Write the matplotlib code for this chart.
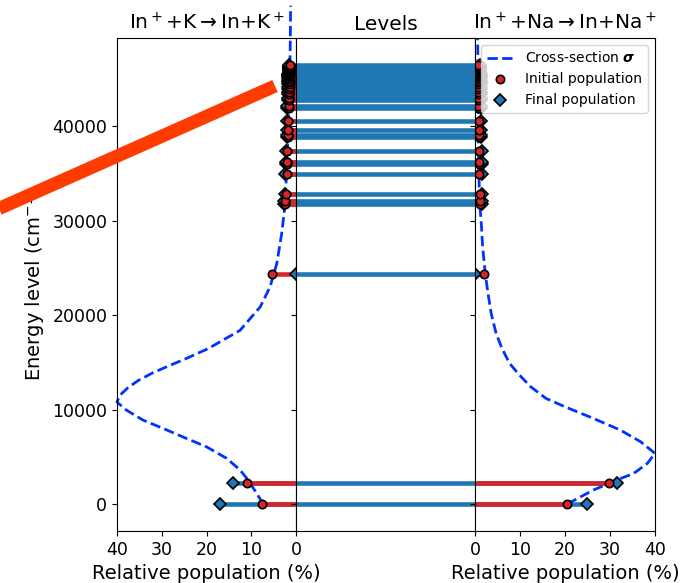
import numpy as np
import matplotlib.pyplot as plt
from matplotlib.lines import Line2D

# energy levels (cm^-1)
levels = [0, 2213, 24373, 31810, 32070, 32880, 34990, 36030, 36280, 37440,
          38860, 39050, 39630, 40580, 41910, 42120, 42770,
          43050, 43400, 43700, 43980, 44230, 44460, 44670, 44860, 45030,
          45190, 45330, 45460, 45580, 45690, 45790, 45880, 45960, 46040,
          46110, 46180, 46240, 46300, 46350, 46400, 46450, 46500]

# populations (%) for In+ + K
init_k = [7.5, 11.0, 5.3, 2.4, 2.4, 2.3, 2.1, 2.0, 2.0, 1.9,
          1.8, 1.8, 1.7, 1.7, 1.6, 1.6, 1.5,
          1.5, 1.5, 1.5, 1.5, 1.4, 1.4, 1.4, 1.4, 1.4,
          1.4, 1.4, 1.4, 1.4, 1.3, 1.3, 1.3, 1.3, 1.3,
          1.3, 1.3, 1.3, 1.3, 1.3, 1.3, 1.3, 1.3]
final_k = [17.0, 14.0, 0.0, 2.6, 2.6, 2.5, 2.4, 2.3, 2.3, 2.2,
           2.1, 2.1, 2.0, 2.0, 1.9, 1.9, 1.8,
           1.8, 1.8, 1.8, 1.8, 1.7, 1.7, 1.7, 1.7, 1.7,
           1.7, 1.7, 1.7, 1.7, 1.6, 1.6, 1.6, 1.6, 1.6,
           1.6, 1.6, 1.6, 1.6, 1.6, 1.6, 1.6, 1.6]

# populations (%) for In+ + Na
init_na = [20.5, 29.8, 2.1, 1.0, 1.0, 1.0, 0.9, 0.9, 0.9, 0.85,
           0.8, 0.8, 0.8, 0.8, 0.75, 0.75, 0.75,
           0.7, 0.7, 0.7, 0.7, 0.7, 0.7, 0.7, 0.7, 0.7,
           0.7, 0.7, 0.7, 0.7, 0.7, 0.7, 0.7, 0.7, 0.7,
           0.7, 0.7, 0.7, 0.7, 0.7, 0.7, 0.7, 0.7]
final_na = [25.0, 31.5, 0.0, 1.6, 1.6, 1.6, 1.5, 1.5, 1.5, 1.5,
            1.4, 1.4, 1.4, 1.4, 1.4, 1.4, 1.3,
            1.3, 1.3, 1.3, 1.3, 1.3, 1.3, 1.3, 1.3, 1.3,
            1.3, 1.3, 1.3, 1.3, 1.2, 1.2, 1.2, 1.2, 1.2,
            1.2, 1.2, 1.2, 1.2, 1.2, 1.2, 1.2, 1.2]

# cross sections, scaled to 40 at maximum
energy_k = [0, 1130, 2540, 3600, 4840, 6060, 6950, 8010, 8890, 9950, 10800,
            11500, 12300, 13100, 13900, 14600, 15400, 16470, 18400, 20880,
            23000, 25470, 28650, 31460, 36000, 42000, 48000, 52800]
sigma_k = [7.3, 8.8, 10.7, 12.5, 15.5, 20.0, 24.5, 29.7, 34.2, 37.9, 40.0,
           39.4, 37.6, 35.2, 32.0, 28.6, 24.6, 19.6, 12.5, 8.0,
           5.8, 4.3, 3.2, 2.5, 2.0, 1.6, 1.3, 1.2]

energy_na = [0, 1480, 2540, 3250, 4300, 5360, 6600, 7830, 9070, 10300, 11180,
             12410, 13650, 14890, 16480, 18060, 20180, 22300, 24300, 27230,
             29700, 32170, 37000, 42000, 49300]
sigma_na = [20.5, 26.3, 31.5, 35.3, 38.3, 40.0, 36.8, 32.3, 26.3, 20.0, 15.8,
            12.4, 9.9, 7.7, 6.0, 4.7, 3.6, 2.9, 2.3, 1.7,
            1.4, 1.0, 0.8, 0.7, 0.6]

blue = 'tab:blue'
red = 'tab:red'
curve_col = '#0033ff'

fig = plt.figure(figsize=(6.8, 5.83), dpi=100)
ax_k = fig.add_axes([117/680, 52/583, 179/680, 493/583])
ax_lv = fig.add_axes([296/680, 52/583, 179/680, 493/583], sharey=ax_k)
ax_na = fig.add_axes([475/680, 52/583, 180/680, 493/583], sharey=ax_k)

# middle panel: levels
ax_lv.hlines(levels, 0, 1, color=blue, lw=3.3)
ax_lv.set_xlim(0, 1)
ax_lv.set_xticks([])
ax_lv.set_title('Levels', fontsize=14.5)
ax_lv.tick_params(labelleft=False)

# side panels
for ax, init, final, en, sig in [(ax_k, init_k, final_k, energy_k, sigma_k),
                                 (ax_na, init_na, final_na, energy_na, sigma_na)]:
    ax.hlines(levels, 0, final, color=blue, lw=3.3)
    ax.hlines(levels, 0, init, color=red, lw=3.3)
    ax.plot(sig, en, '--', color=curve_col, lw=2, clip_on=(ax is ax_na),
            label=r'Cross-section $\boldsymbol{\sigma}$')
    ax.plot(final, levels, 'D', ms=6, mfc=blue, mec='black', mew=1.2,
            ls='none', label='Final population')
    ax.plot(init, levels, 'o', ms=6, mfc=red, mec='black', mew=1.2,
            ls='none', label='Initial population')
    ax.set_xlim(0, 40)
    ax.set_xticks([0, 10, 20, 30, 40])
    ax.set_xlabel('Relative population (%)', fontsize=14)
    ax.tick_params(labelsize=12.5)

ax_k.invert_xaxis()
ax_k.set_ylim(-2860, 49370)
ax_k.set_yticks([0, 10000, 20000, 30000, 40000])
ax_k.set_ylabel(r'Energy level (cm$^{-1}$)', fontsize=14)
ax_k.set_title(r'In$^+$+K$\rightarrow$In+K$^+$', fontsize=14.5)
ax_na.set_title(r'In$^+$+Na$\rightarrow$In+Na$^+$', fontsize=14.5)
ax_na.tick_params(labelleft=False)

h, l = ax_na.get_legend_handles_labels()
ax_na.legend([h[0], h[2], h[1]], [l[0], l[2], l[1]], loc='upper right',
             fontsize=10)

# thick stroke across the upper left
stroke = Line2D([-10/680, 275/680], [1 - 212.5/583, 1 - 86/583],
                transform=fig.transFigure, color='#ff3b00', lw=9.5,
                solid_capstyle='butt')
fig.add_artist(stroke)

fig.savefig('out.png', dpi=100)
